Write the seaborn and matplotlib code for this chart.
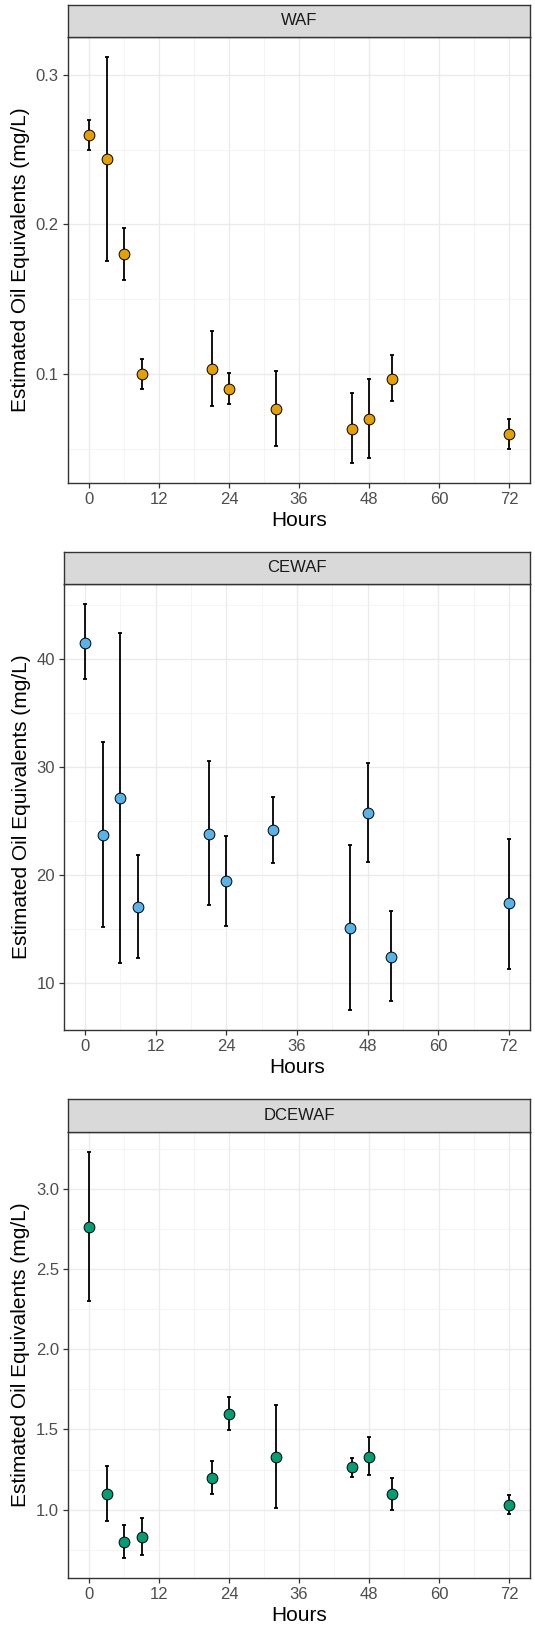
import numpy as np
import pandas as pd
import seaborn as sns
import matplotlib.pyplot as plt
from matplotlib.ticker import MultipleLocator, FormatStrFormatter

hours = [0, 3, 6, 9, 21, 24, 32, 45, 48, 52, 72]

waf_mean = [0.260, 0.2435, 0.180, 0.100, 0.1032, 0.0903, 0.0767, 0.0633, 0.070, 0.097, 0.060]
waf_lo = [0.250, 0.1754, 0.163, 0.090, 0.0783, 0.0802, 0.0518, 0.0407, 0.0437, 0.0818, 0.050]
waf_hi = [0.270, 0.3118, 0.1976, 0.110, 0.129, 0.1005, 0.102, 0.0871, 0.097, 0.1125, 0.0702]

cewaf_mean = [41.5, 23.7, 27.1, 17.0, 23.8, 19.4, 24.1, 15.1, 25.75, 12.4, 17.35]
cewaf_lo = [38.1, 15.2, 11.8, 12.3, 17.2, 15.3, 21.05, 7.5, 21.2, 8.3, 11.3]
cewaf_hi = [45.05, 32.3, 42.4, 21.8, 30.5, 23.55, 27.2, 22.8, 30.35, 16.6, 23.35]

dcewaf_mean = [2.762, 1.098, 0.799, 0.832, 1.197, 1.597, 1.33, 1.264, 1.33, 1.098, 1.031]
dcewaf_lo = [2.303, 0.926, 0.70, 0.716, 1.098, 1.498, 1.009, 1.203, 1.216, 0.998, 0.974]
dcewaf_hi = [3.232, 1.273, 0.902, 0.95, 1.302, 1.70, 1.654, 1.323, 1.45, 1.199, 1.09]

panels = ['WAF', 'CEWAF', 'DCEWAF']
colors = ['#E69F00', '#56B4E9', '#009E73']

sns.set_theme(style='white')
plt.rcParams['font.family'] = ['Liberation Sans', 'DejaVu Sans']

W, H = 535, 1629
fig = plt.figure(figsize=(W / 100, H / 100), dpi=100)

# pixel boxes: left, right, strip top, strip bottom (=axes top), axes bottom
boxes = [
    (68, 530, 4.5, 37, 483),
    (64, 530, 552, 584, 1030),
    (68, 530, 1098.5, 1131.5, 1578),
]
series = [
    (waf_mean, waf_lo, waf_hi, 0.1, 0.05, '%.1f'),
    (cewaf_mean, cewaf_lo, cewaf_hi, 10, 5, '%.0f'),
    (dcewaf_mean, dcewaf_lo, dcewaf_hi, 0.5, 0.25, '%.1f'),
]

border = '#333333'
for name, color, box, (mean, lo, hi, major, minor, fmt) in zip(panels, colors, boxes, series):
    l, r, st, sb, b = box
    ax = fig.add_axes([l / W, 1 - b / H, (r - l) / W, (b - sb) / H])
    sax = fig.add_axes([l / W, 1 - sb / H, (r - l) / W, (sb - st) / H])

    df = pd.DataFrame({'Hours': hours, 'mean': mean, 'lo': lo, 'hi': hi})
    mean_a = np.array(mean)
    ax.errorbar(df['Hours'], df['mean'],
                yerr=[mean_a - np.array(lo), np.array(hi) - mean_a],
                fmt='none', ecolor='black', elinewidth=1.3, capsize=1.6,
                capthick=1.3, zorder=3)
    sns.scatterplot(data=df, x='Hours', y='mean', ax=ax, color=color, s=60,
                    edgecolor='black', linewidth=0.7, zorder=4, legend=False)

    # ggplot-style 5% expansion
    ymin, ymax = min(lo), max(hi)
    pad = (ymax - ymin) * 0.05
    ax.set_ylim(ymin - pad, ymax + pad)
    ax.set_xlim(-3.6, 75.6)
    ax.xaxis.set_major_locator(MultipleLocator(12))
    ax.xaxis.set_minor_locator(MultipleLocator(6))
    ax.yaxis.set_major_locator(MultipleLocator(major))
    ax.yaxis.set_minor_locator(MultipleLocator(minor))
    ax.yaxis.set_major_formatter(FormatStrFormatter(fmt))

    ax.grid(which='major', color='#EBEBEB', linewidth=1.0)
    ax.grid(which='minor', color='#F2F2F2', linewidth=0.6)
    ax.set_axisbelow(True)
    ax.tick_params(which='major', length=3.6, width=0.9, color=border,
                   labelsize=12, labelcolor='#4D4D4D', pad=3,
                   bottom=True, left=True)
    ax.tick_params(which='minor', length=0, bottom=False, left=False)
    for sp in ax.spines.values():
        sp.set_color(border)
        sp.set_linewidth(1.0)
    ax.set_xlabel('Hours', fontsize=15, color='black', labelpad=3)
    ax.set_ylabel('Estimated Oil Equivalents (mg/L)', fontsize=15,
                  color='black', labelpad=4)

    sax.set_facecolor('#D9D9D9')
    sax.set_xticks([])
    sax.set_yticks([])
    for sp in sax.spines.values():
        sp.set_color(border)
        sp.set_linewidth(1.0)
    sax.text(0.5, 0.5, name, ha='center', va='center', fontsize=12,
             color='#1A1A1A', transform=sax.transAxes)

fig.savefig('out.png', dpi=100)
